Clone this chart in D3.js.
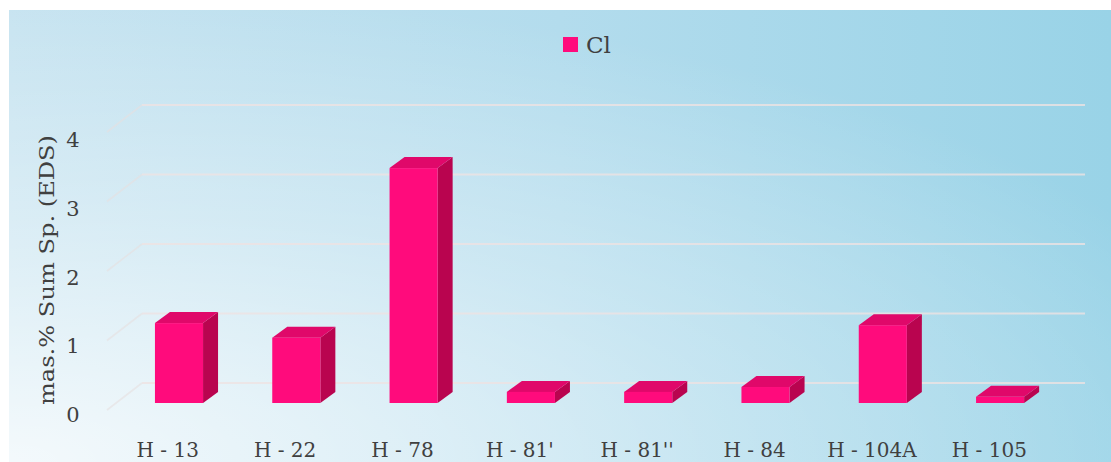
<!DOCTYPE html>
<html>
<head>
<meta charset="utf-8">
<script src="https://cdn.jsdelivr.net/npm/d3@7"></script>
<style>
  html, body { margin: 0; padding: 0; background: #ffffff; }
  svg { display: block; }
</style>
</head>
<body>
<svg id="chart" width="1111" height="462"></svg>
<script>
// ---- data ----
const categories = ["H - 13", "H - 22", "H - 78", "H - 81'", "H - 81''", "H - 84", "H - 104A", "H - 105"];
const clValues = [1.15, 0.94, 3.38, 0.16, 0.16, 0.23, 1.12, 0.09];
const yTicks = [0, 1, 2, 3, 4];
const seriesName = "Cl";
const yTitle = "mas.% Sum Sp. (EDS)";

(function () {
// ---- setup ----
const W = 1111, H = 462;
const svg = d3.select("#chart");
const defs = svg.append("defs");

const base = defs.append("linearGradient").attr("id", "bgBase")
  .attr("gradientUnits", "userSpaceOnUse")
  .attr("x1", 9).attr("y1", 0).attr("x2", W).attr("y2", 0);
base.append("stop").attr("offset", 0).attr("stop-color", "#c6e3f0");
base.append("stop").attr("offset", 0.5).attr("stop-color", "#b3dced");
base.append("stop").attr("offset", 1).attr("stop-color", "#99d3e7");

const glow = defs.append("radialGradient").attr("id", "bgGlow")
  .attr("gradientUnits", "userSpaceOnUse")
  .attr("cx", 0).attr("cy", 0).attr("r", 1)
  .attr("gradientTransform", "translate(9,462) scale(1300,480)");
glow.append("stop").attr("offset", 0).attr("stop-color", "#ffffff").attr("stop-opacity", 0.8);
glow.append("stop").attr("offset", 0.55).attr("stop-color", "#ffffff").attr("stop-opacity", 0.32);
glow.append("stop").attr("offset", 1).attr("stop-color", "#ffffff").attr("stop-opacity", 0);

svg.append("rect").attr("x", 9).attr("y", 10).attr("width", W - 9).attr("height", H - 10)
  .attr("fill", "url(#bgBase)");
svg.append("rect").attr("x", 9).attr("y", 10).attr("width", W - 9).attr("height", H - 10)
  .attr("fill", "url(#bgGlow)");

// ---- scales ----
const depthX = 35, depthY = 27;          // floor depth (back wall -> front)
const backLeft = 142, backRight = 1085;
const yBack = d3.scaleLinear().domain([0, 4]).range([383, 105]);   // back wall
const yBar = d3.scaleLinear().domain([0, 4]).range([403, 125]);    // bar front plane
const yLabel = d3.scaleLinear().domain([0, 4]).range([415, 140]);  // tick labels

const xBar = d3.scaleBand().domain(categories)
  .range([120.35, 1058.75]).paddingInner(0.59).paddingOuter(0.295);
const xLabel = d3.scaleBand().domain(categories).range([109, 1048]).padding(0);

// ---- gridlines ----
const grid = svg.append("g");
yTicks.forEach(t => {
  const y = yBack(t);
  grid.append("line")
    .attr("x1", backLeft).attr("x2", backRight).attr("y1", y).attr("y2", y)
    .attr("stroke", "#eee2e2").attr("stroke-opacity", 0.8).attr("stroke-width", 2.2);
  grid.append("line")
    .attr("x1", backLeft - depthX).attr("y1", y + depthY)
    .attr("x2", backLeft).attr("y2", y)
    .attr("stroke", "#e6e0e0").attr("stroke-opacity", 0.6).attr("stroke-width", 1.6);
});

// ---- bars ----
const bdx = 15, bdy = -11;
const cFront = "#ff0b7c", cTop = "#e0086a", cSide = "#b9044f";
const bars = svg.append("g").selectAll("g").data(categories).join("g");
bars.each(function (c, i) {
  const g = d3.select(this);
  const x0 = xBar(c), w = xBar.bandwidth();
  const y0 = yBar(0), y1 = yBar(clValues[i]);
  g.append("path")
    .attr("d", `M${x0 + w},${y1} L${x0 + w + bdx},${y1 + bdy} L${x0 + w + bdx},${y0 + bdy} L${x0 + w},${y0} Z`)
    .attr("fill", cSide);
  g.append("path")
    .attr("d", `M${x0},${y1} L${x0 + bdx},${y1 + bdy} L${x0 + w + bdx},${y1 + bdy} L${x0 + w},${y1} Z`)
    .attr("fill", cTop);
  g.append("rect").attr("x", x0).attr("y", y1).attr("width", w).attr("height", y0 - y1)
    .attr("fill", cFront);
});

// ---- axis labels ----
const fontFam = "'DejaVu Serif', 'Liberation Serif', serif";
svg.append("g").selectAll("text").data(yTicks).join("text")
  .attr("x", 73).attr("y", d => yLabel(d))
  .attr("text-anchor", "middle").attr("dominant-baseline", "central")
  .attr("font-family", fontFam).attr("font-size", 21).attr("fill", "#404040")
  .text(d => d);

svg.append("g").selectAll("text").data(categories).join("text")
  .attr("x", d => xLabel(d) + xLabel.bandwidth() / 2).attr("y", 457)
  .attr("text-anchor", "middle")
  .attr("font-family", fontFam).attr("font-size", 20).attr("fill", "#404040")
  .text(d => d);

svg.append("text")
  .attr("transform", "translate(54,270) rotate(-90)")
  .attr("text-anchor", "middle")
  .attr("font-family", fontFam).attr("font-size", 21).attr("fill", "#404040")
  .attr("textLength", 270).attr("lengthAdjust", "spacingAndGlyphs")
  .text(yTitle);

// ---- legend ----
const lg = svg.append("g");
lg.append("rect").attr("x", 563).attr("y", 37).attr("width", 15).attr("height", 15).attr("fill", cFront);
lg.append("text").attr("x", 586).attr("y", 53)
  .attr("font-family", fontFam).attr("font-size", 23).attr("fill", "#404040")
  .text(seriesName);
})();
</script>
</body>
</html>
